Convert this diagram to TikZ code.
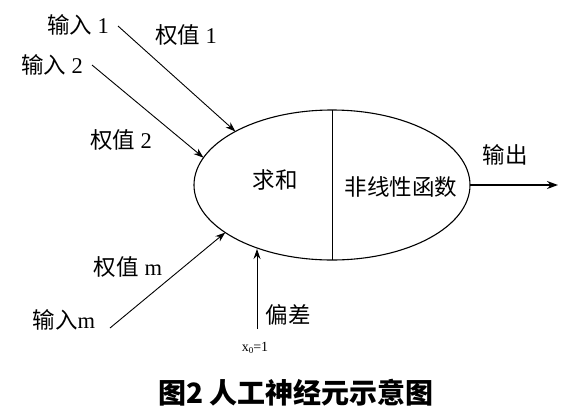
\documentclass[tikz,border=0pt]{standalone}
\usepackage{fontspec}
\setmainfont{Liberation Serif}
\newfontfamily\cjk{Noto Sans CJK SC}
\usetikzlibrary{shapes.geometric,arrows.meta}
\begin{document}
\begin{tikzpicture}[x=1pt,y=-1pt,
  lbl/.style={inner sep=0pt,font=\fontsize{22.5}{22.5}\selectfont},
  conn/.style={line width=0.9pt,-{Stealth[length=10pt,width=7pt]}},
  neuronstyle/.style={ellipse,draw,line width=1.1pt,minimum width=276pt,minimum height=150pt,inner sep=0pt,outer sep=0pt}]
\useasboundingbox (0,0) rectangle (584,416);
% neuron
\node[neuronstyle] (neuron) at (332,185) {};
\draw[line width=0.9pt] (neuron.north) -- (neuron.south);
\node[lbl] (sum) at (275,180) {\cjk 求和};
\node[lbl] (act) at (401,187) {\cjk 非线性函数};
% inputs
\node[lbl] (in1) at (78,25) {{\cjk 输入} 1};
\node[lbl] (w1) at (186,35) {{\cjk 权值} 1};
\node[lbl] (in2) at (52,65) {{\cjk 输入} 2};
\node[lbl] (w2) at (121,140) {{\cjk 权值} 2};
\node[lbl] (wm) at (128,267) {{\cjk 权值} m};
\node[lbl] (inm) at (64,320) {{\cjk 输入}m};
\coordinate (s1) at (118,26);
\coordinate (s2) at (92,65);
\coordinate (sm) at (110,328);
\draw[conn] (s1) -- (neuron.151.5);
\draw[conn] (s2) -- (neuron.168);
\draw[conn] (sm) -- (neuron.204);
% bias
\node[lbl] (bias) at (288,315) {\cjk 偏差};
\node[inner sep=0pt,font=\fontsize{14}{14}\selectfont] (x0) at (255,348) {x{\fontsize{9}{9}\selectfont\raisebox{-2pt}{0}}=1};
\coordinate (bs) at (257,329);
\coordinate (bt) at (257,249);
\draw[conn] (bs) -- (bt);
% output
\node[lbl] (outl) at (505,155) {\cjk 输出};
\coordinate (oe) at (558,185);
\draw[line width=1.6pt,-{Stealth[length=11pt,width=8pt]}] (neuron.east) -- (oe);
% caption
\node[inner sep=0pt,font=\fontsize{28}{28}\selectfont\cjk\bfseries] (cap) at (296,393) {图2 人工神经元示意图};
\end{tikzpicture}
\end{document}
